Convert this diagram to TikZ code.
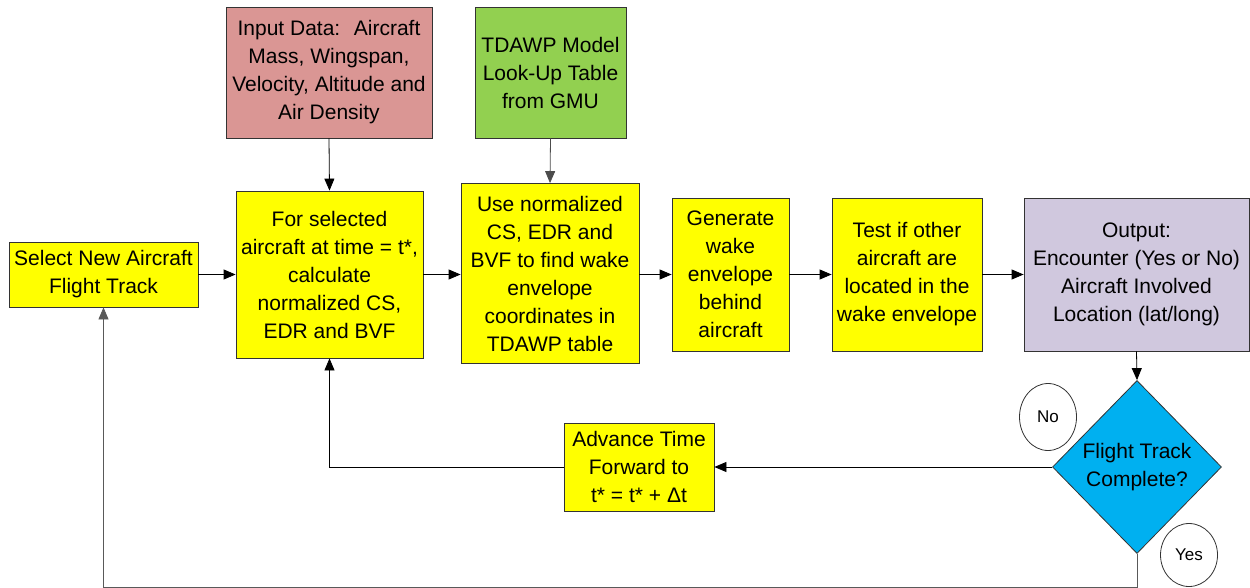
\documentclass[tikz,border=0pt]{standalone}
\usepackage{fontspec}
\setmainfont{Liberation Sans}
\usetikzlibrary{arrows.meta,shapes.geometric}
\definecolor{yel}{RGB}{255,255,0}
\definecolor{rose}{RGB}{218,150,148}
\definecolor{grn}{RGB}{146,208,80}
\definecolor{lil}{RGB}{208,200,222}
\definecolor{cyanbl}{RGB}{0,176,240}
\tikzset{
  box/.style={draw=black!80, line width=0.8pt, align=center, inner sep=0pt,
    font=\fontsize{21}{28}\selectfont},
  ybox/.style={box, fill=yel},
  arr/.style={line width=0.8pt, -{Triangle[length=12pt,width=10pt]}},
  lbl/.style={draw=black!80, line width=0.8pt, ellipse, inner sep=0pt, fill=white,
    font=\fontsize{17}{20}\selectfont},
}
\begin{document}
\begin{tikzpicture}[x=1pt,y=-1pt]
\useasboundingbox (0,0) rectangle (1250,588);
\node[ybox, minimum width=189pt, minimum height=65pt] (sel) at (103.5,274.5) {Select New Aircraft\\Flight Track};
\node[ybox, minimum width=187pt, minimum height=167pt] (calc) at (329.5,274.5) {For selected\\aircraft at time = t*,\\calculate\\normalized CS,\\EDR and BVF};
\node[ybox, minimum width=178pt, minimum height=180pt] (use) at (550,273.5) {Use normalized\\CS, EDR and\\BVF to find wake\\envelope\\coordinates in\\TDAWP table};
\node[ybox, minimum width=117pt, minimum height=153pt] (gen) at (730.5,274.5) {Generate\\wake\\envelope\\behind\\aircraft};
\node[ybox, minimum width=150pt, minimum height=153pt] (test) at (907,274.5) {Test if other\\aircraft are\\located in the\\wake envelope};
\node[box, fill=lil, minimum width=225pt, minimum height=153pt] (out) at (1136.5,274.5) {Output:\\Encounter (Yes or No)\\Aircraft Involved\\Location (lat/long)};
\node[box, fill=rose, minimum width=206pt, minimum height=131pt] (inp) at (329,72.5) {Input Data:~ Aircraft\\Mass, Wingspan,\\Velocity, Altitude and\\Air Density};
\node[box, fill=grn, minimum width=151pt, minimum height=131pt] (tdawp) at (550.5,72.5) {TDAWP Model\\Look-Up Table\\from GMU};
\node[ybox, minimum width=150pt, minimum height=88pt] (adv) at (639,467) {Advance Time\\Forward to\\t* = t* + Δt};
\node[box, diamond, fill=cyanbl, minimum width=169pt, minimum height=173pt] (dia) at (1137,467) {Flight Track\\Complete?};
\node[lbl, minimum width=57pt, minimum height=67pt] (no) at (1048,417) {No};
\node[lbl, minimum width=57pt, minimum height=63pt] (yes) at (1189,555) {Yes};
\coordinate (yb) at (0,587);
\draw[arr] (sel.east) -- (calc.west);
\draw[arr] (inp.south) -- (calc.north);
\draw[arr, black!70] (tdawp.south) -- (use.north);
\draw[arr] (calc.east) -- (calc.east -| use.west);
\draw[arr] (use.east |- gen.west) -- (gen.west);
\draw[arr] (gen.east) -- (test.west);
\draw[arr] (test.east) -- (out.west);
\draw[arr] (out.south) -- (dia.north);
\draw[arr] (dia.west) -- (adv.east);
\draw[arr] (adv.west) -| (calc.south);
\draw[arr, black!65] (dia.south) -- (dia.south |- yb) -| (sel.south);
\end{tikzpicture}
\end{document}
